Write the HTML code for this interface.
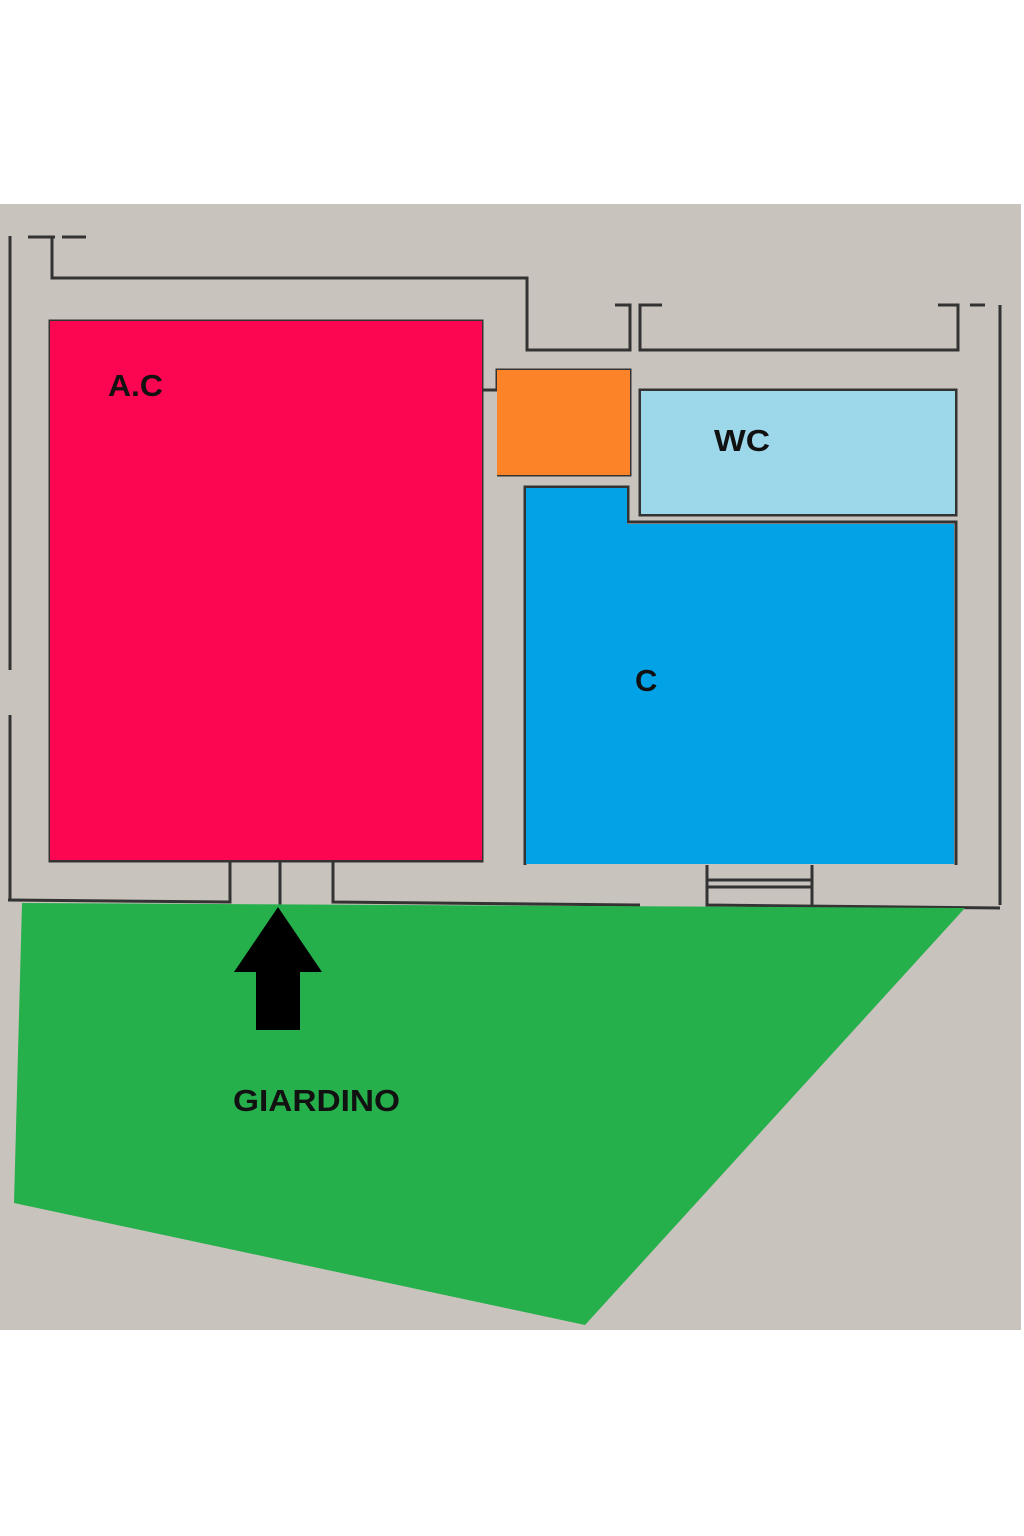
<!DOCTYPE html>
<html><head><style>html,body{margin:0;padding:0;background:#fff;}svg{display:block}</style></head>
<body>
<svg width="1024" height="1536" viewBox="0 0 1024 1536" xmlns="http://www.w3.org/2000/svg">
<rect x="0" y="204" width="1021" height="1126" fill="#c9c3bd"/>
<g fill="none" stroke="#333" stroke-width="3">
<polyline points="28,237 55,237"/>
<polyline points="62,237 86,237"/>
<line x1="10" y1="236" x2="10" y2="670"/>
<line x1="10" y1="715" x2="10" y2="900"/>
<polyline points="52,238 52,278 527,278 527,350 630,350 630,305 615,305"/>
<polyline points="662,305 640,305 640,350 958,350 958,305 938,305"/>
<line x1="1000" y1="305" x2="1000" y2="905"/>
<line x1="970" y1="305" x2="985" y2="305"/>
<polyline points="8,900 230,902 230,862"/>
<line x1="280" y1="862" x2="280" y2="905"/>
<polyline points="333,862 333,902 640,905"/>
<polyline points="707,865 707,905 1000,908"/>
<line x1="812" y1="865" x2="812" y2="905"/>
<line x1="707" y1="880" x2="812" y2="880"/>
<line x1="707" y1="887" x2="812" y2="887"/>
<rect x="50" y="321" width="432" height="540"/>
<polyline points="482,390 497,390 497,370 630,370 630,475 497,475"/>
<rect x="640" y="390" width="316" height="125"/>
<polyline points="525,865 525,487 628,487 628,522 956,522 956,865"/>
</g>
<rect x="50" y="321" width="432" height="539" fill="#fc0651"/>
<polygon points="497,370 630,370 630,475 497,475" fill="#fd8329"/>
<rect x="641" y="391" width="314" height="123" fill="#9dd8ea"/>
<polygon points="526,488 627,488 627,524 954,524 954,864 526,864" fill="#02a2e6"/>
<polygon points="22,903 965,908 585,1325 14,1203" fill="#26b04c"/>
<polygon points="278,907 234,972 256,972 256,1030 300,1030 300,972 322,972" fill="#000"/>
<g font-family="Liberation Sans, sans-serif" font-weight="bold" font-size="31" fill="#111">
<text x="108" y="396" textLength="55" lengthAdjust="spacingAndGlyphs">A.C</text>
<text x="714" y="451" textLength="56" lengthAdjust="spacingAndGlyphs">WC</text>
<text x="635" y="691">C</text>
<text x="233" y="1111" textLength="167" lengthAdjust="spacingAndGlyphs">GIARDINO</text>
</g>
</svg>
</body></html>
